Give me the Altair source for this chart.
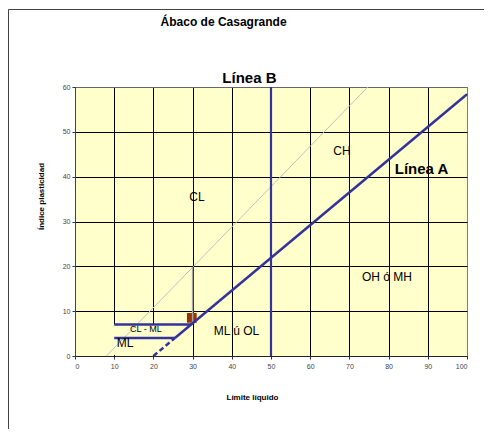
import altair as alt
import pandas as pd

FONT = "Liberation Sans"

# ---- axis ticks ----
x_ticks = list(range(0, 101, 10))
y_ticks = list(range(0, 61, 10))

# ---- lines (límite líquido, índice plasticidad) ----
lineA_ll = [25.5, 100.0]
lineA_pi = [4.0, 58.4]
lineA_dash_ll = [20.0, 25.5]
lineA_dash_pi = [0.0, 4.0]
lineB_ll = [50.0, 50.0]
lineB_pi = [0.0, 60.0]
band_top_ll = [10.0, 29.6]
band_top_pi = [7.0, 7.0]
band_bot_ll = [10.0, 25.5]
band_bot_pi = [4.0, 4.0]
lineU_ll = [8.0, 74.7]
lineU_pi = [0.0, 60.0]
vert30_ll = [30.0, 30.0]
vert30_pi = [7.3, 19.8]
marker_ll = [29.8]
marker_pi = [8.5]

# ---- filled label boxes (hide the grid in the CL-ML / ML zone) ----
box_ll = [9.8, 9.8]
box_ll2 = [29.6, 21.0]
box_pi = [4.0, 0.2]
box_pi2 = [7.0, 4.0]

# ---- labels ----
zone_text = ["CH", "CL", "OH ó MH", "ML ú OL", "ML"]
zone_ll = [68.1, 31.1, 79.6, 41.2, 12.8]
zone_pi = [45.7, 35.4, 17.6, 5.5, 2.9]
small_text = ["CL - ML"]
small_ll = [18.1]
small_pi = [6.1]
bold_text = ["Línea A", "Línea B"]
bold_ll = [88.4, 44.5]
bold_pi = [41.8, 62.1]
title_text = ["Ábaco de Casagrande"]
title_ll = [37.9]
title_pi = [74.4]


def seg(ll, pi):
    return pd.DataFrame({"ll": [ll[0]], "pi": [pi[0]], "ll2": [ll[1]], "pi2": [pi[1]]})


xscale = alt.Scale(domain=[0, 100], nice=False, zero=False)
yscale = alt.Scale(domain=[0, 60], nice=False, zero=False)

x_axis = alt.Axis(
    values=x_ticks, grid=True, format="d",
    gridColor={"condition": {"test": "datum.value === 100", "value": "#808080"}, "value": "#000000"},
    gridWidth=1, tickSize=3, tickColor="#333333", domainColor="#222222",
    labelFont=FONT, labelFontSize=7, labelColor="#444444", labelPadding=3,
    title="Límite  líquido", titleFont=FONT, titleFontSize=8, titleFontWeight="bold",
    titleColor="#000000", titleX=177, titleY=41, titleBaseline="middle", titleAlign="center",
)
y_axis = alt.Axis(
    values=y_ticks, grid=True, format="d",
    gridColor={"condition": {"test": "datum.value === 60", "value": "#666666"}, "value": "#000000"},
    gridWidth=1, tickSize=3, tickColor="#333333", domainColor="#444444",
    labelFont=FONT, labelFontSize=7, labelColor="#444444", labelPadding=2,
    title="Índice plasticidad", titleFont=FONT, titleFontSize=8, titleFontWeight="bold",
    titleColor="#000000", titleX=-34, titleY=109, titleAngle=270,
    titleBaseline="middle", titleAlign="center",
)

X = alt.X("ll:Q", scale=xscale, axis=x_axis)
Y = alt.Y("pi:Q", scale=yscale, axis=y_axis)


def rule(df, color, width, dash=None):
    kw = dict(color=color, strokeWidth=width)
    if dash:
        kw["strokeDash"] = dash
    return alt.Chart(df).mark_rule(**kw).encode(x=X, y=Y, x2="ll2:Q", y2="pi2:Q")


blue = "#333399"
layers = [
    alt.Chart(pd.DataFrame({"ll": box_ll, "ll2": box_ll2, "pi": box_pi, "pi2": box_pi2}))
    .mark_rect(color="#FFFFCC", opacity=1)
    .encode(x=X, y=Y, x2="ll2:Q", y2="pi2:Q"),
    rule(seg(lineU_ll, lineU_pi), "#c0c0c0", 1),
    alt.Chart(pd.DataFrame({"ll": marker_ll, "pi": marker_pi}))
    .mark_square(size=95, color="#993300", opacity=1)
    .encode(x=X, y=Y),
    rule(seg(vert30_ll, vert30_pi), "#a6a6a6", 1.5),
    rule(seg(lineB_ll, lineB_pi), blue, 2.2),
    rule(seg(lineA_ll, lineA_pi), blue, 2.5),
    rule(seg(lineA_dash_ll, lineA_dash_pi), blue, 2.5, dash=[5, 3]),
    rule(seg(band_top_ll, band_top_pi), blue, 2.5),
    rule(seg(band_bot_ll, band_bot_pi), blue, 2.5),
    alt.Chart(pd.DataFrame({"t": zone_text, "ll": zone_ll, "pi": zone_pi}))
    .mark_text(font=FONT, fontSize=12, color="#000000", align="center", baseline="middle")
    .encode(x=X, y=Y, text="t:N"),
    alt.Chart(pd.DataFrame({"t": small_text, "ll": small_ll, "pi": small_pi}))
    .mark_text(font=FONT, fontSize=9, color="#000000", align="center", baseline="middle")
    .encode(x=X, y=Y, text="t:N"),
    alt.Chart(pd.DataFrame({"t": bold_text, "ll": bold_ll, "pi": bold_pi}))
    .mark_text(font=FONT, fontSize=15, fontWeight="bold", color="#000000", align="center", baseline="middle")
    .encode(x=X, y=Y, text="t:N"),
    alt.Chart(pd.DataFrame({"t": title_text, "ll": title_ll, "pi": title_pi}))
    .mark_text(font=FONT, fontSize=12, fontWeight="bold", color="#000000", align="center", baseline="middle")
    .encode(x=X, y=Y, text="t:N"),
    # chart frame (spreadsheet embedded chart border)
    alt.Chart(pd.DataFrame({"a": [0]})).mark_rule(color="#444444", strokeWidth=1)
    .encode(x=alt.value(-66.5), y=alt.value(-77.5), y2=alt.value(360)),
    alt.Chart(pd.DataFrame({"a": [0]})).mark_rule(color="#444444", strokeWidth=1)
    .encode(x=alt.value(-66.5), x2=alt.value(420), y=alt.value(-77.5)),
]

chart = (
    alt.layer(*layers)
    .properties(
        width=392, height=269,
        autosize=alt.AutoSizeParams(type="none"),
        padding={"left": 67, "top": 79, "right": 17, "bottom": 73},
        background="white",
    )
    .configure_view(fill="#FFFFCC", stroke="#808080", strokeWidth=1)
)

chart.save("out.html", embed_options={"renderer": "svg", "actions": False})
